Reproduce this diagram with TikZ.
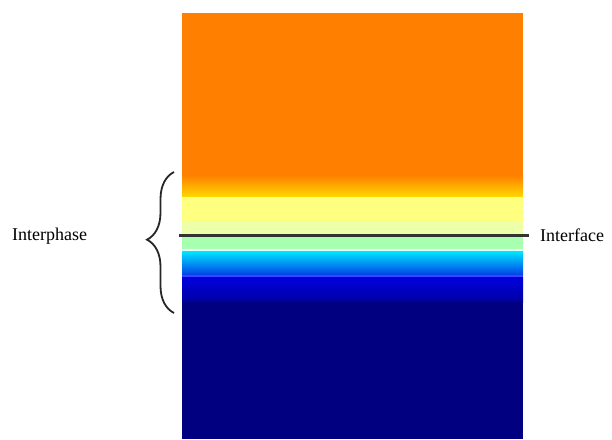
\documentclass[tikz,border=0pt]{standalone}
\usepackage{fontspec}
\setmainfont{Liberation Serif}
\usetikzlibrary{decorations.pathreplacing}

\definecolor{hotorange}{RGB}{255,128,0}
\definecolor{deepyellow}{RGB}{255,216,0}
\definecolor{paleyellow}{RGB}{255,255,128}
\definecolor{lightyellow}{RGB}{238,255,170}
\definecolor{palegreen}{RGB}{168,255,176}
\definecolor{icecyan}{RGB}{224,255,255}
\definecolor{brightcyan}{RGB}{0,232,255}
\definecolor{midblue}{RGB}{0,64,232}
\definecolor{seamblue}{RGB}{64,64,255}
\definecolor{royalblue}{RGB}{0,0,224}
\definecolor{darkblue}{RGB}{0,0,160}
\definecolor{navyblue}{RGB}{0,0,128}

\begin{document}
\begin{tikzpicture}[x=1pt, y=-1pt,
    lbl/.style={font=\fontsize{18}{20}\selectfont, inner sep=0pt, anchor=base west},
    band/.style={draw=none},
    iface/.style={line width=3pt, draw=black!80},
    curly/.style={decorate, decoration={brace, amplitude=27pt, aspect=0.52},
                  line width=1.8pt, draw=black!85}
]
\useasboundingbox (0,0) rectangle (612,439);

% colour bands of the field
\fill[hotorange] (182,13) rectangle (523,176);
\shade[band, top color=hotorange, bottom color=deepyellow] (182,175) rectangle (523,197);
\fill[paleyellow] (182,197) rectangle (523,222);
\fill[lightyellow] (182,222) rectangle (523,236);
\fill[palegreen] (182,236) rectangle (523,249);
\fill[icecyan] (182,249) rectangle (523,251);
\shade[band, top color=brightcyan, bottom color=midblue] (182,251) rectangle (523,275);
\fill[seamblue] (182,275) rectangle (523,277);
\shade[band, top color=royalblue, bottom color=darkblue] (182,277) rectangle (523,302);
\fill[navyblue] (182,302) rectangle (523,439);

% labels
\node[lbl] (interphase) at (12,240) {Interphase};
\node[lbl] (interface) at (540,241) {Interface};

\coordinate (lineL) at (179,235);
\coordinate (lineR) at (529,235);
\draw[iface] (lineL) -- (lineR);

\coordinate (braceB) at (174,313);
\coordinate (braceT) at (174,172);
\draw[curly] (braceB) -- (braceT);
\end{tikzpicture}
\end{document}
